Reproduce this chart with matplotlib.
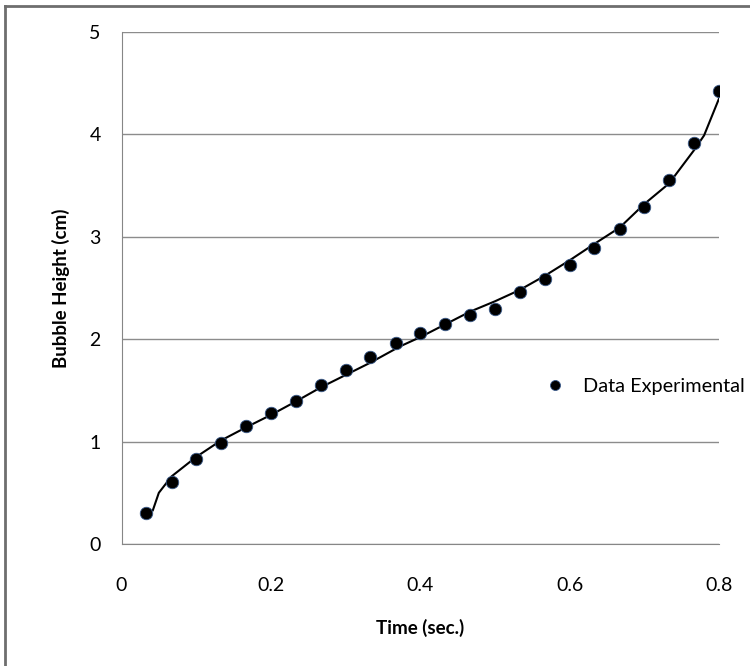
import matplotlib
matplotlib.use('Agg')
from matplotlib import pyplot as plt
from matplotlib.lines import Line2D

plt.rcParams['font.family'] = ['Lato', 'DejaVu Sans']

# experimental points (time in s, height in cm)
time_s = [0.033, 0.067, 0.100, 0.133, 0.167, 0.200, 0.233, 0.267, 0.300, 0.333,
          0.367, 0.400, 0.433, 0.467, 0.500, 0.533, 0.567, 0.600, 0.633, 0.667,
          0.700, 0.733, 0.767, 0.800]
height_cm = [0.30, 0.61, 0.83, 0.99, 1.15, 1.28, 1.40, 1.55, 1.70, 1.83,
             1.96, 2.06, 2.15, 2.24, 2.29, 2.46, 2.59, 2.72, 2.89, 3.08,
             3.29, 3.55, 3.92, 4.42]

# fitted curve
fit_t = [0.042, 0.050, 0.067, 0.100, 0.133, 0.167, 0.200, 0.233, 0.267, 0.300,
         0.333, 0.373, 0.400, 0.467, 0.500, 0.533, 0.567, 0.600, 0.633, 0.667,
         0.700, 0.733, 0.767, 0.780, 0.800]
fit_h = [0.33, 0.50, 0.66, 0.85, 1.01, 1.14, 1.26, 1.39, 1.53, 1.65,
         1.77, 1.93, 2.02, 2.27, 2.37, 2.48, 2.62, 2.77, 2.93, 3.09,
         3.32, 3.52, 3.85, 3.99, 4.35]

fig = plt.figure(figsize=(7.5, 6.66), dpi=100)
ax = fig.add_axes([0.162, 0.1832, 0.7967, 0.7688])

ax.plot(fit_t, fit_h, color='black', linewidth=1.5, zorder=2)
ax.plot(time_s, height_cm, linestyle='none', marker='o', markersize=9,
        markerfacecolor='black', markeredgecolor='#3a5a8a', markeredgewidth=0.6,
        label='Data Experimental', zorder=3)

ax.set_xlim(0, 0.8)
ax.set_ylim(0, 5)
ax.set_xticks([0, 0.2, 0.4, 0.6, 0.8])
ax.set_xticklabels(['0', '0.2', '0.4', '0.6', '0.8'])
ax.set_yticks([0, 1, 2, 3, 4, 5])
ax.grid(axis='y', color='#8c8c8c', linewidth=1)
ax.set_axisbelow(True)

for side in ['top', 'right']:
    ax.spines[side].set_visible(False)
ax.spines['left'].set_color('#868686')
ax.spines['bottom'].set_color('#868686')
ax.tick_params(axis='both', length=0, labelsize=14, colors='#000000')
ax.tick_params(axis='x', pad=24)
ax.tick_params(axis='y', pad=15)

ax.set_xlabel('Time (sec.)', fontsize=13.5, fontweight='bold', labelpad=18)
ax.set_ylabel('Bubble Height (cm)', fontsize=13.5, fontweight='bold', labelpad=14)

fig.legend(loc='center left', bbox_to_anchor=(0.727, 0.4204), frameon=False,
           fontsize=14.3, handletextpad=0.9, handlelength=1.0,
           borderpad=0, borderaxespad=0, markerscale=0.8)

# chart border (left and top visible)
fig.add_artist(Line2D([0.007, 0.007], [0, 0.991], color='#6e6e6e', linewidth=2))
fig.add_artist(Line2D([0.007, 1.0], [0.991, 0.991], color='#6e6e6e', linewidth=2))

fig.savefig('out.png', dpi=100)
